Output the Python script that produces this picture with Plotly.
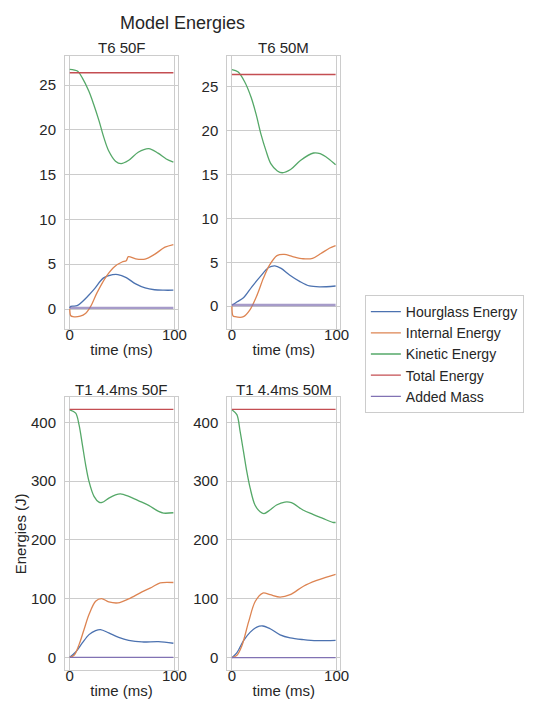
import plotly.graph_objects as go

# ---- data (time in ms, energy in J) ----
panel_titles = ['T6 50F', 'T6 50M', 'T1 4.4ms 50F', 'T1 4.4ms 50M']
series_names = ['Hourglass Energy', 'Internal Energy', 'Kinetic Energy', 'Total Energy', 'Added Mass']
colors = ['#4c72b0', '#dd8452', '#55a868', '#c44e52', '#8172b3']

# T6 50F
t6f_hg_t = [0, 1, 7, 17, 24, 32, 41, 46, 54, 63, 72, 81, 90, 99]
t6f_hg_y = [0.1, 0.3, 0.37, 1.4, 2.3, 3.45, 3.83, 3.85, 3.5, 2.8, 2.35, 2.15, 2.1, 2.1]
t6f_ie_t = [0, 1, 3, 10, 15, 20, 26, 35, 43, 50, 54, 56, 63, 72, 81, 91, 99]
t6f_ie_y = [0, -0.75, -0.85, -0.8, -0.5, 0.3, 1.8, 3.65, 4.75, 5.25, 5.4, 5.85, 5.6, 5.58, 6.1, 6.9, 7.2]
t6f_ke_t = [0, 7.3, 12, 18.3, 23, 28, 32.7, 37.4, 43.7, 49, 56, 65.4, 75.5, 84.3, 92.2, 99]
t6f_ke_y = [26.75, 26.56, 25.8, 24.3, 22.8, 21.0, 19.1, 17.6, 16.5, 16.23, 16.57, 17.5, 17.9, 17.4, 16.75, 16.4]
t6f_te = 26.37
t6f_am = 0.13

# T6 50M
t6m_hg_t = [0, 5, 11, 19, 27, 35, 41, 47, 55, 65, 74, 84, 99]
t6m_hg_y = [0.1, 0.5, 0.95, 2.2, 3.36, 4.4, 4.6, 4.3, 3.55, 2.8, 2.3, 2.2, 2.3]
t6m_ie_t = [0, 1, 3, 11, 17, 24, 30, 36, 43, 50, 58, 68, 77, 85, 93, 99]
t6m_ie_y = [0, -1.1, -1.2, -1.2, -0.45, 1.26, 3.17, 4.7, 5.76, 5.9, 5.65, 5.4, 5.45, 6.0, 6.6, 6.9]
t6m_ke_t = [0, 5.7, 12, 18.3, 23, 27.7, 32.4, 37.1, 43.4, 48.1, 56, 65.4, 78, 84.3, 92.2, 99]
t6m_ke_y = [26.95, 26.7, 25.6, 23.8, 21.9, 19.6, 17.75, 16.24, 15.4, 15.2, 15.57, 16.6, 17.45, 17.37, 16.8, 16.1]
t6m_te = 26.39
t6m_am = 0.13

# T1 4.4ms 50F
t1f_hg_t = [0, 5.7, 12, 18.4, 24.7, 29.4, 37.3, 46.8, 56.3, 69, 84.8, 99]
t1f_hg_y = [0, 9, 24.4, 38.6, 45.5, 47.2, 41.5, 34, 29, 26.1, 26.7, 23.9]
t1f_ie_t = [0, 4.1, 8.9, 13.6, 18.4, 24.7, 30.4, 37.3, 46.2, 56.3, 69, 78.5, 86.4, 99]
t1f_ie_y = [0, 3.4, 21.6, 47, 72.7, 95.5, 100, 94.3, 92.6, 99.4, 111.4, 119.3, 126.7, 127.3]
t1f_ke_t = [0, 5.7, 8.9, 12.1, 15.2, 18.4, 23.2, 27.9, 31, 37.4, 43.7, 48.5, 56.4, 65.9, 75.4, 84.9, 89.6, 99]
t1f_ke_y = [421, 415.5, 395.6, 361.6, 327.6, 299.3, 273.8, 264, 263.6, 271, 276.5, 278.2, 273.8, 266.3, 258.5, 248.3, 245.4, 246]
t1f_te = 422
t1f_am = 0

# T1 4.4ms 50M
t1m_hg_t = [0, 4.8, 11.1, 17.5, 23.8, 29.5, 36.5, 46, 55.6, 68.3, 81, 99]
t1m_hg_y = [0, 8.7, 28.9, 43.4, 52, 53.8, 49.1, 38.7, 33.5, 30.6, 28.9, 29.5]
t1m_ie_t = [0, 4.8, 9.5, 15.9, 22.2, 29.5, 36.5, 46, 55.6, 68.3, 81, 93.7, 99]
t1m_ie_y = [0, 4, 20.2, 60.7, 95.4, 109.8, 107, 103, 107, 121.4, 131.2, 138.7, 141.4]
t1m_ke_t = [0, 4.7, 7.8, 11, 14.2, 17.4, 22, 26.9, 30.6, 36.3, 42.6, 50.5, 56.8, 67.8, 77.3, 86.8, 96.2, 99]
t1m_ke_y = [421.5, 413, 384.6, 350.5, 316, 288, 259.4, 248, 244.7, 250.9, 259.4, 264.5, 263.5, 251, 243.5, 236.7, 230, 229.7]
t1m_te = 422
t1m_am = 0

t_end = [0, 99]

panels = [
    (t6f_hg_t, t6f_hg_y, t6f_ie_t, t6f_ie_y, t6f_ke_t, t6f_ke_y, t6f_te, t6f_am),
    (t6m_hg_t, t6m_hg_y, t6m_ie_t, t6m_ie_y, t6m_ke_t, t6m_ke_y, t6m_te, t6m_am),
    (t1f_hg_t, t1f_hg_y, t1f_ie_t, t1f_ie_y, t1f_ke_t, t1f_ke_y, t1f_te, t1f_am),
    (t1m_hg_t, t1m_hg_y, t1m_ie_t, t1m_ie_y, t1m_ke_t, t1m_ke_y, t1m_te, t1m_am),
]

W, H = 533, 709
# panel frames in pixels (left, right, top, bottom)
frames = [(58, 173, 48, 321), (223, 338, 48, 321), (58, 173, 389, 662), (223, 338, 389, 662)]
title_centers = [39, 39, 381, 381]
y_ranges = [[-2.23, 28.24], [-2.6, 28.5], [-21.6, 443], [-21, 443]]
y_ticks = [[0, 5, 10, 15, 20, 25], [0, 5, 10, 15, 20, 25],
           [0, 100, 200, 300, 400], [0, 100, 200, 300, 400]]

FONT = 'Liberation Sans, Arial, sans-serif'
TXT = '#262626'
GRID = '#cccccc'

fig = go.Figure()

for i, (hg_t, hg_y, ie_t, ie_y, ke_t, ke_y, te, am) in enumerate(panels):
    xa = 'x' if i == 0 else f'x{i + 1}'
    ya = 'y' if i == 0 else f'y{i + 1}'
    xs = [hg_t, ie_t, ke_t, t_end, t_end]
    ys = [hg_y, ie_y, ke_y, [te, te], [am, am]]
    top_row = i < 2
    for k in range(5):
        if k == 4:
            line = dict(color=colors[k], width=2.4 if top_row else 1.3)
            op = 0.7 if top_row else 1
        else:
            line = dict(color=colors[k], width=1.3, shape='spline', smoothing=0.9)
            op = 1
        fig.add_trace(go.Scatter(
            x=xs[k], y=ys[k], mode='lines', name=series_names[k],
            line=line, opacity=op,
            showlegend=(i == 2), legendgroup=series_names[k],
            xaxis=xa, yaxis=ya,
        ))

    l, r, t, b = frames[i]
    ax = dict(
        domain=[l / W, r / W], range=[-4.5, 103.5], tickvals=[0, 100],
        showgrid=True, gridcolor=GRID, gridwidth=1, zeroline=False,
        showline=True, linecolor=GRID, linewidth=1, mirror=True,
        ticks='', ticklabelstandoff=-8,
        tickfont=dict(size=15, color=TXT, family=FONT),
        title=dict(text='time (ms)', font=dict(size=15, color=TXT, family=FONT), standoff=2),
        anchor=ya,
    )
    ay = dict(
        domain=[1 - b / H, 1 - t / H], range=y_ranges[i], tickvals=y_ticks[i],
        showgrid=True, gridcolor=GRID, gridwidth=1, zeroline=False,
        showline=True, linecolor=GRID, linewidth=1, mirror=True,
        ticks='', ticklabelstandoff=5,
        tickfont=dict(size=15, color=TXT, family=FONT),
        anchor=xa,
    )
    key = '' if i == 0 else str(i + 1)
    fig.update_layout({f'xaxis{key}': ax, f'yaxis{key}': ay})

    fig.add_annotation(
        text=panel_titles[i], x=(l + r) / 2 / W, y=1 - title_centers[i] / H,
        xref='paper', yref='paper', xanchor='center', yanchor='middle',
        showarrow=False, font=dict(size=15, color=TXT, family=FONT),
    )

# y label of the lower-left panel
fig.add_annotation(
    text='Energies (J)', x=12.5 / W, y=1 - 526 / H, xref='paper', yref='paper',
    xanchor='center', yanchor='middle', textangle=-90, showarrow=False,
    font=dict(size=15, color=TXT, family=FONT),
)

fig.add_annotation(
    text='Model Energies', x=177 / W, y=1 - 15 / H, xref='paper', yref='paper',
    xanchor='center', yanchor='middle', showarrow=False,
    font=dict(size=18, color=TXT, family=FONT),
)

fig.update_layout(
    width=W, height=H, autosize=False,
    margin=dict(l=0, r=0, t=0, b=0),
    paper_bgcolor='white', plot_bgcolor='white',
    font=dict(family=FONT, color=TXT),
    legend=dict(
        x=363 / W, y=1 - 287 / H, xanchor='left', yanchor='top',
        bordercolor=GRID, borderwidth=1, bgcolor='white',
        font=dict(size=14, color=TXT, family=FONT),
        tracegroupgap=0,
    ),
)

fig.write_html("out.html")
